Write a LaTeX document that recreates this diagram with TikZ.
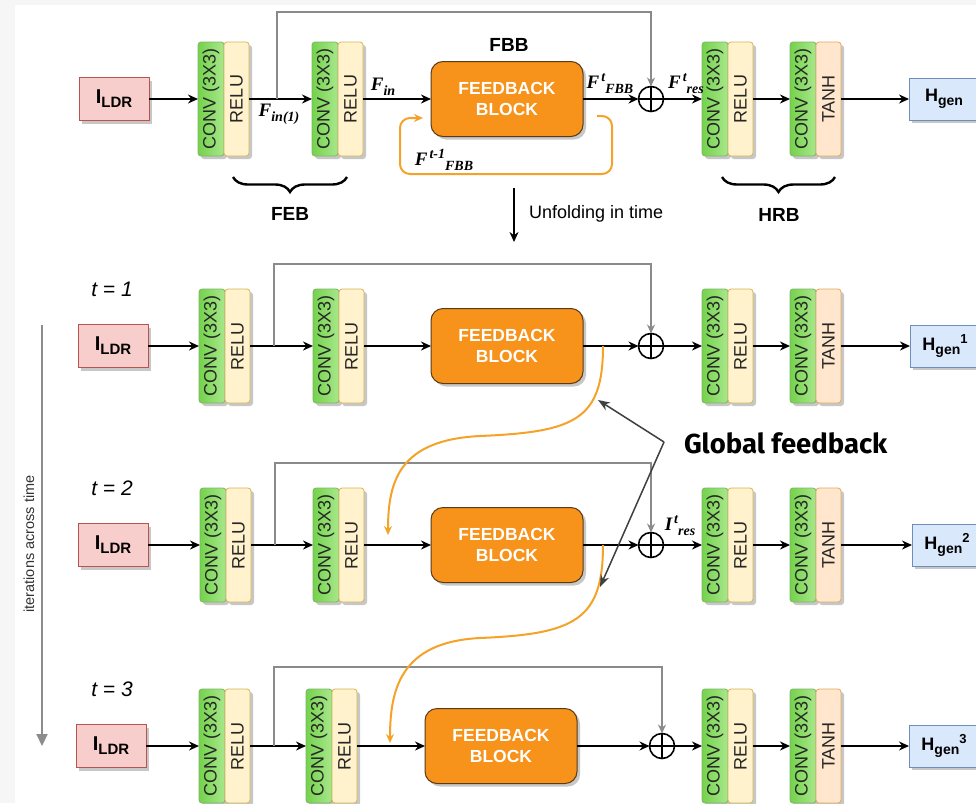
\documentclass[tikz,border=0pt]{standalone}
\usepackage{fontspec}
\usepackage{graphicx}
\setmainfont{Liberation Serif}
\setsansfont{Liberation Sans}
\newfontfamily\calloutfont{Fira Sans}
\usetikzlibrary{arrows.meta,shadows,decorations.pathreplacing}

\definecolor{bgstrip}{HTML}{F6F6F6}
\definecolor{ldrfill}{HTML}{F8CECC}
\definecolor{ldrdraw}{HTML}{B85450}
\definecolor{hfill}{HTML}{DAE8FC}
\definecolor{hdraw}{HTML}{6C8EBF}
\definecolor{convL}{HTML}{74D24C}
\definecolor{convR}{HTML}{A8E88C}
\definecolor{convdraw}{HTML}{82B366}
\definecolor{relufill}{HTML}{FFF2CC}
\definecolor{reludraw}{HTML}{D6B656}
\definecolor{tanhfill}{HTML}{FFE6CC}
\definecolor{tanhdraw}{HTML}{E0A860}
\definecolor{fbbfill}{HTML}{F7921A}
\definecolor{fbbdraw}{HTML}{5B3A16}
\definecolor{fbline}{HTML}{F5A229}
\definecolor{skipgray}{HTML}{8A8A8A}
\definecolor{timegray}{HTML}{8C8C8C}
\definecolor{gfgray}{HTML}{404040}

\newcommand{\setfs}[1]{\fontsize{#1}{#1}\selectfont}
% symbol with a lowered index
\newcommand{\sublbl}[2]{{\rmfamily\bfseries\itshape\setfs{19}#1\raisebox{-5pt}{\setfs{14}#2}}}
% symbol with a raised index followed by a lowered one
\newcommand{\sslbl}[3]{{\rmfamily\bfseries\itshape\setfs{19}#1\hspace{2pt}\raisebox{7pt}{\setfs{14}#2}\raisebox{-5pt}{\setfs{14}#3}}}
\newcommand{\ildrtext}{{\bfseries\setfs{20}I\raisebox{-4pt}{\setfs{15}LDR}}}
\newcommand{\hgentext}[1]{{\bfseries\setfs{18}H\raisebox{-4pt}{\setfs{14}gen}\raisebox{7pt}{\setfs{13}#1}}}

\tikzset{
  x=1pt, y=-1pt,
  base/.style={font=\sffamily, inner sep=0pt, outer sep=0pt},
  shadowed/.style={drop shadow={shadow xshift=3pt, shadow yshift=-3pt, fill=black!55, opacity=0.4}},
  layer/.style={base, shadowed, line width=0.8pt, rounded corners=3pt, minimum height=114pt, font=\sffamily\setfs{18}, text=black!85},
  convbox/.style={layer, draw=convdraw, left color=convL, right color=convR, minimum width=26pt},
  relubox/.style={layer, draw=reludraw, fill=relufill, minimum width=25pt},
  tanhbox/.style={layer, draw=tanhdraw, fill=tanhfill, minimum width=25pt},
  ldrbox/.style={base, shadowed, draw=ldrdraw, fill=ldrfill, line width=0.8pt, minimum width=70pt, minimum height=43pt},
  hbox/.style={base, shadowed, draw=hdraw, fill=hfill, line width=0.8pt, minimum width=70pt, minimum height=42pt},
  fbbbox/.style={base, shadowed, draw=fbbdraw, fill=fbbfill, line width=1pt, rounded corners=12pt,
    minimum width=152pt, minimum height=75pt, text=white, align=center,
    font=\sffamily\bfseries\fontsize{17.5}{21}\selectfont},
  sumnode/.style={base, circle, draw, line width=1.6pt, minimum size=25pt,
    path picture={\draw[line width=1.6pt] (path picture bounding box.north) -- (path picture bounding box.south)
      (path picture bounding box.west) -- (path picture bounding box.east);}},
  flow/.style={line width=1.6pt, -{Stealth[length=10pt,width=9pt]}},
  skip/.style={draw=skipgray, line width=2pt, -{Stealth[length=9pt,width=8pt]}},
  fbloop/.style={draw=fbline, line width=2pt, -{Stealth[length=9pt,width=8pt]}},
  callout/.style={draw=gfgray, line width=1.5pt, -{Stealth[length=12pt,width=9pt]}},
  timeline/.style={draw=timegray, line width=2pt, -{Triangle[length=12pt,width=11pt]}},
  brace/.style={decorate, decoration={brace, mirror, amplitude=15pt}, line width=2.4pt},
  title/.style={base, font=\sffamily\bfseries\setfs{19}},
  steplbl/.style={base, font=\sffamily\itshape\setfs{21}},
  lbl/.style={base},
}

% one convolution layer followed by its activation
\newcommand{\convunit}[5]{%
  \node[convbox, anchor=west] (#1a) at (#2,#3) {\rotatebox{90}{CONV (3X3)}};
  \node[#4, anchor=west] (#1b) at (#1a.east) {\rotatebox{90}{#5}};
}

% one pass of the network: id, line y, input x, conv1 left, branch x, conv2 left, block x, sum x, skip y
\newcommand{\netrow}[9]{%
  \node[ldrbox] (ildr#1) at (#3,#2) {\ildrtext};
  \convunit{c1#1}{#4}{#2}{relubox}{RELU}
  \convunit{c2#1}{#6}{#2}{relubox}{RELU}
  \node[fbbbox] (fbb#1) at (#7,#2) {FEEDBACK\\BLOCK};
  \node[sumnode] (o#1) at (#8,#2) {};
  \convunit{c3#1}{702}{#2}{relubox}{RELU}
  \convunit{c4#1}{790}{#2}{tanhbox}{TANH}
  \coordinate (b#1) at (#5,#2);
  \coordinate (k#1) at (#5,#9);
  \draw[flow] (ildr#1) -- (c1#1a);
  \draw[flow] (c1#1b) -- (c2#1a);
  \draw[flow] (c2#1b) -- (fbb#1);
  \draw[flow] (fbb#1) -- (o#1);
  \draw[flow] (o#1) -- (c3#1a);
  \draw[flow] (c3#1b) -- (c4#1a);
  \draw[skip] (b#1) -- (k#1) -| (o#1.north);
}

\begin{document}
\begin{tikzpicture}
\useasboundingbox (0,0) rectangle (976,803);
\clip (0,0) rectangle (976,803);
\fill[bgstrip] (0,0) rectangle (976,803);
\fill[white] (15,5) rectangle (980,810);

% folded network
\netrow{0}{99}{114}{198}{277}{312}{507}{651}{12}
\node[hbox] (h0) at (944,99) {\hgentext{}};
\draw[flow] (c40b) -- (h0);

\node[title] (fbbt) at (509,45) {FBB};
\node[lbl] (fin1) at (279,114) {\sublbl{F}{in(1)}};
\node[lbl] (fin) at (383,87) {\sublbl{F}{in}};
\node[lbl] (ftfbb) at (610,84) {\sslbl{F}{t}{FBB}};
\node[lbl] (ftres) at (686,84) {\sslbl{F}{t}{res}};
\node[lbl] (ftm1) at (444,160) {\sslbl{F}{t-1}{FBB}};

% recurrent state of the feedback block
\coordinate (lp0) at (597,116);
\coordinate (lp1) at (423,118);
\draw[fbloop, rounded corners=10pt] (lp0) -- (612,116) -- (612,174) -- (400,174) -- (400,118) -- (lp1);

\draw[brace] (233,177) -- (347,177);
\node[title] (feb) at (290,214) {FEB};
\draw[brace] (722,177) -- (835,177);
\node[title] (hrb) at (779,215) {HRB};

\coordinate (u0) at (514,188);
\coordinate (u1) at (514,242);
\draw[flow] (u0) -- (u1);
\node[base, anchor=west, font=\sffamily\setfs{18}] (unf) at (529,214) {Unfolding in time};

% unrolled network
\netrow{1}{346}{113}{199}{274}{313}{507}{651}{264}
\node[hbox] (h1) at (945,346) {\hgentext{1}};
\draw[flow] (c41b) -- (h1);
\node[steplbl] (t1) at (112,289) {t = 1};

\netrow{2}{545}{113}{200}{275}{313}{507}{651}{463}
\node[hbox] (h2) at (947,545) {\hgentext{2}};
\draw[flow] (c42b) -- (h2);
\node[steplbl] (t2) at (112,488) {t = 2};
\node[lbl] (itres) at (680,526) {\sslbl{I}{t}{res}};

\netrow{3}{746}{111}{199}{274}{306}{501}{662}{667}
\node[hbox] (h3) at (944,746) {\hgentext{3}};
\draw[flow] (c43b) -- (h3);
\node[steplbl] (t3) at (112,689) {t = 3};

% state passed from one step to the next
\coordinate (gA0) at (603,346);
\coordinate (gA1) at (388,535);
\draw[fbloop] (gA0) .. controls (603,420) and (575,432) .. (480,436) .. controls (400,440) and (388,480) .. (gA1);
\coordinate (gB0) at (603,545);
\coordinate (gB1) at (390,743);
\draw[fbloop] (gB0) .. controls (603,620) and (575,634) .. (480,638) .. controls (400,642) and (390,690) .. (gB1);

\node[base, anchor=west, font=\calloutfont\bfseries\setfs{27.5}] (gf) at (684,443) {Global feedback};
\coordinate (J) at (664,442);
\coordinate (ga) at (598,400);
\coordinate (gb) at (600,587);
\draw[callout] (J) -- (ga);
\draw[callout] (J) -- (gb);

% time axis
\coordinate (ta) at (42,325);
\coordinate (tb) at (42,746);
\draw[timeline] (ta) -- (tb);
\node[base, rotate=90, font=\sffamily\setfs{14.5}, text=black!80] (iat) at (29,544) {iterations across time};
\end{tikzpicture}
\end{document}
